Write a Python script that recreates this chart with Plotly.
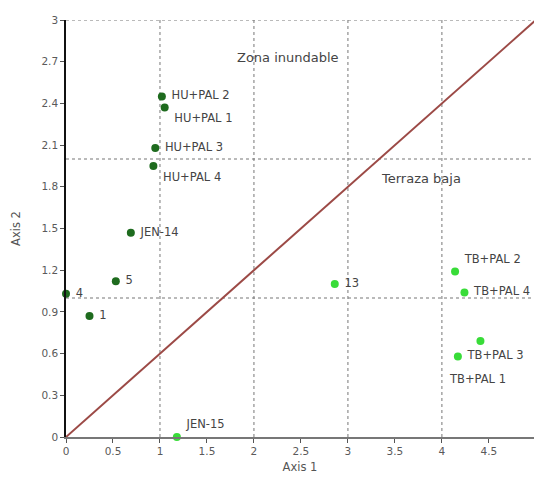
import plotly.graph_objects as go

# ---- data ----
dark_names = ["HU+PAL 2", "HU+PAL 1", "HU+PAL 3", "HU+PAL 4", "JEN-14", "5", "4", "1"]
dark_x = [1.02, 1.05, 0.95, 0.93, 0.69, 0.53, 0.0, 0.25]
dark_y = [2.45, 2.37, 2.08, 1.95, 1.47, 1.12, 1.03, 0.87]

light_names = ["JEN-15", "13", "TB+PAL 2", "TB+PAL 4", "", "TB+PAL 3"]
light_x = [1.18, 2.86, 4.14, 4.24, 4.41, 4.17]
light_y = [0.0, 1.10, 1.19, 1.04, 0.69, 0.58]

extra_label = "TB+PAL 1"
extra_label_pos = (4.38, 0.42)

diag_x = [0, 5]
diag_y = [0, 3]

zone_x = [1, 2, 3, 4]
zone_y = [1, 2, 3]
zone_labels = ["Zona inundable", "Terraza baja"]
zone_label_pos = [(2.36, 2.73), (3.78, 1.86)]

x_ticks = [0, 0.5, 1, 1.5, 2, 2.5, 3, 3.5, 4, 4.5]
y_ticks = [0, 0.3, 0.6, 0.9, 1.2, 1.5, 1.8, 2.1, 2.4, 2.7, 3]

# ---- styling ----
FONT = "DejaVu Sans"
TXT = "#444444"
dark_pos = ["middle right", "bottom right", "middle right", "bottom right",
            "middle right", "middle right", "middle right", "middle right"]
light_pos = ["top right", "middle right", "top right", "middle right", "middle right", "middle right"]

fig = go.Figure()

# reference dotted lines
for xv in zone_x:
    fig.add_shape(type="line", x0=xv, x1=xv, y0=0, y1=3, xref="x", yref="y",
                  line=dict(color="#777777", width=1, dash="dot"), layer="below")
for yv in zone_y:
    fig.add_shape(type="line", x0=0, x1=5, y0=yv, y1=yv, xref="x", yref="y",
                  line=dict(color="#777777", width=1.2, dash="dot"), layer="below")

fig.add_trace(go.Scatter(x=diag_x, y=diag_y, mode="lines",
                         line=dict(color="#9c4a46", width=2), showlegend=False, hoverinfo="skip"))

fig.add_trace(go.Scatter(x=dark_x, y=dark_y, mode="markers+text", text=[" " + t for t in dark_names],
                         textposition=dark_pos,
                         textfont=dict(family=FONT, size=11.5, color=TXT),
                         marker=dict(color="#1e6b1e", size=8), showlegend=False, cliponaxis=False))
fig.add_trace(go.Scatter(x=light_x, y=light_y, mode="markers+text", text=[" " + t for t in light_names],
                         textposition=light_pos,
                         textfont=dict(family=FONT, size=11.5, color=TXT),
                         marker=dict(color="#38dc38", size=8), showlegend=False, cliponaxis=False))

fig.add_annotation(x=extra_label_pos[0], y=extra_label_pos[1], text=extra_label, showarrow=False,
                   font=dict(family=FONT, size=11.5, color=TXT))
for lab, (lx, ly) in zip(zone_labels, zone_label_pos):
    fig.add_annotation(x=lx, y=ly, text=lab, showarrow=False,
                       font=dict(family=FONT, size=13, color=TXT))

fig.update_layout(
    width=534, height=484,
    margin=dict(l=66, r=0, t=20, b=47),
    paper_bgcolor="white", plot_bgcolor="white",
    font=dict(family=FONT, size=10.5, color="#5a5a5a"),
    xaxis=dict(range=[0, 4.98], tickvals=x_ticks, showgrid=False, zeroline=False,
               showline=True, linecolor="#777777", linewidth=1.5,
               ticks="outside", ticklen=4, tickcolor="#555555",
               title=dict(text="Axis 1", font=dict(size=11.5, color="#555555"), standoff=7)),
    yaxis=dict(range=[0, 3], tickvals=y_ticks, showgrid=False, zeroline=False,
               showline=True, linecolor="#111111", linewidth=1.5,
               ticks="outside", ticklen=4, tickcolor="#555555",
               title=dict(text="Axis 2", font=dict(size=11.5, color="#555555"), standoff=18)),
)

fig.write_html("out.html", config={"displayModeBar": False},
               post_script="document.body.style.margin='0';document.body.style.overflow='hidden';")
